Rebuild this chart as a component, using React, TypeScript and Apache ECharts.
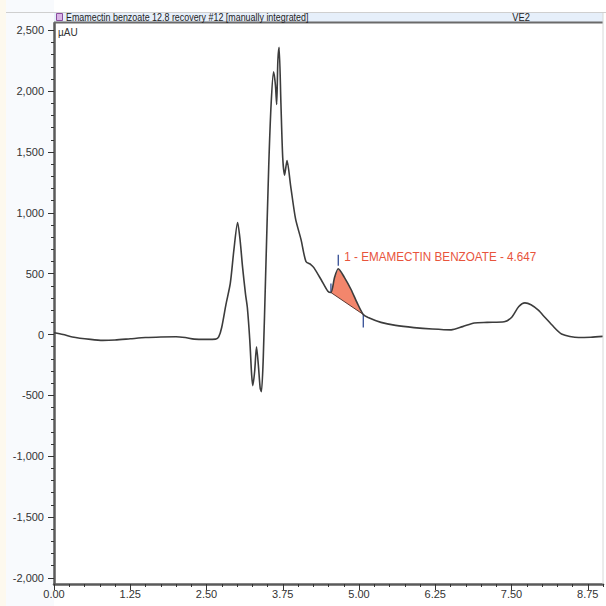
import React, { useEffect, useRef } from "react";
import * as echarts from "echarts";

// Retention time (min) and detector signal (µAU)
const times = [
  0.0, 0.15, 0.3, 0.6, 0.8, 1.0, 1.25, 1.5, 1.75, 2.0, 2.15, 2.3, 2.5, 2.65, 2.7, 2.75, 2.82, 2.89, 2.95,
  3.01, 3.05, 3.09, 3.14, 3.17, 3.21, 3.24, 3.26, 3.29, 3.32, 3.35, 3.38, 3.4, 3.43, 3.47, 3.52, 3.56,
  3.6, 3.63, 3.65, 3.67, 3.69, 3.72, 3.75, 3.78, 3.82, 3.88, 3.96, 4.05, 4.13, 4.21, 4.26, 4.38, 4.49,
  4.54, 4.6, 4.66, 4.76, 4.87, 4.97, 5.07, 5.15, 5.36, 5.6, 5.9, 6.2, 6.51, 6.7, 6.89, 7.1, 7.38, 7.5,
  7.62, 7.72, 7.82, 7.94, 8.05, 8.16, 8.32, 8.6, 8.8, 9.0,
];
const signal = [
  15, 0, -20, -40, -48, -45, -35, -25, -20, -18, -25, -38, -40, -38, -20, 60, 250, 420, 700,
  920, 780, 560, 330, 220, -50, -330, -420, -300, -100, -250, -440, -470, -200, 500, 1380, 1900,
  2160, 2050, 1890, 2250, 2360, 1900, 1450, 1310, 1430, 1220, 950, 780, 600, 575, 550, 450, 355,
  345, 470, 540, 470, 370, 260, 165, 140, 100, 75, 57, 45, 38, 65, 95, 100, 105, 140,
  230, 260, 245, 200, 140, 80, 5, -25, -22, -15,
];

// Integrated peak
const peakName = "1 - EMAMECTIN BENZOATE - 4.647";
const peakStart = 4.54;
const peakApex = 4.66;
const peakEnd = 5.07;

// Axis ticks
const yTicks = [-2000, -1500, -1000, -500, 0, 500, 1000, 1500, 2000, 2500];
const xTicks = [0, 1.25, 2.5, 3.75, 5.0, 6.25, 7.5, 8.75];

const title = "Emamectin benzoate 12.8 recovery #12 [manually integrated]";
const channel = "VE2";
const unit = "µAU";

export default function App() {
  const ref = useRef<HTMLDivElement>(null);
  useEffect(() => {
    if (!ref.current) return;
    const chart = echarts.init(ref.current, null, { renderer: "svg" });

    const yMinor: number[] = [];
    for (let v = -2000; v <= 2500; v += 100) yMinor.push(v);
    const xMinor: number[] = [];
    for (let i = 0; i <= 36; i++) xMinor.push(+(i * 0.25).toFixed(2));

    const lineData = times.map((t, i) => [t, signal[i]]);
    const seg = lineData.filter((p) => p[0] >= peakStart - 1e-9 && p[0] <= peakEnd + 1e-9);
    const apexVal = signal[times.indexOf(peakApex)];

    const fmtY = (v: number) => {
      const s = Math.abs(v).toLocaleString("en-US");
      return (v < 0 ? "-" : "") + s;
    };

    const axisFont = "'Liberation Sans', Arial, sans-serif";

    chart.setOption({
      animation: false,
      backgroundColor: "#ffffff",
      grid: { left: 54, right: 3, top: 23, bottom: 22, containLabel: false },
      xAxis: [
        {
          type: "value",
          min: 0,
          max: 9.0,
          axisLine: { show: true, onZero: false, lineStyle: { color: "#5a5a5a", width: 2.5 } },
          axisTick: { show: true, customValues: xTicks, length: 6, lineStyle: { color: "#333", width: 1 } },
          axisLabel: {
            customValues: xTicks,
            formatter: (v: number) => v.toFixed(2),
            color: "#333",
            fontFamily: axisFont,
            fontSize: 11,
            margin: 4,
          },
          splitLine: { show: false },
        },
        {
          type: "value",
          min: 0,
          max: 9.0,
          position: "bottom",
          axisLine: { show: false, onZero: false },
          axisTick: { show: true, customValues: xMinor, length: 3, lineStyle: { color: "#333", width: 1 } },
          axisLabel: { show: false },
          splitLine: { show: false },
        },
      ],
      yAxis: [
        {
          type: "value",
          min: -2050,
          max: 2560,
          axisLine: { show: true, onZero: false, lineStyle: { color: "#5a5a5a", width: 2.5 } },
          axisTick: { show: true, customValues: yTicks, length: 6, lineStyle: { color: "#333", width: 1 } },
          axisLabel: {
            customValues: yTicks,
            formatter: fmtY,
            color: "#333",
            fontFamily: axisFont,
            fontSize: 11,
            margin: 10,
          },
          splitLine: { show: false },
        },
        {
          type: "value",
          min: -2050,
          max: 2560,
          position: "left",
          axisLine: { show: false, onZero: false },
          axisTick: { show: true, customValues: yMinor, length: 3, lineStyle: { color: "#333", width: 1 } },
          axisLabel: { show: false },
          splitLine: { show: false },
        },
      ],
      graphic: [
        { type: "rect", z: -10, shape: { x: 0, y: 0, width: 6, height: 606 }, style: { fill: "#fdf9ee" } },
        { type: "rect", z: -10, shape: { x: 6, y: 0, width: 48, height: 606 }, style: { fill: "#f8fafd" } },
        { type: "line", z: 5, shape: { x1: 6, y1: 12.5, x2: 606, y2: 12.5 }, style: { stroke: "#cfcfcf", lineWidth: 1 } },
        { type: "rect", z: 5, shape: { x: 54, y: 13, width: 549, height: 9 }, style: { fill: "#e6effa" } },
        { type: "line", z: 6, shape: { x1: 54, y1: 22.5, x2: 603, y2: 22.5 }, style: { stroke: "#6a6a6a", lineWidth: 2 } },
        { type: "line", z: 6, shape: { x1: 603, y1: 13, x2: 603, y2: 584 }, style: { stroke: "#d8d8d8", lineWidth: 1 } },
        { type: "rect", z: 7, shape: { x: 56.5, y: 13.5, width: 6, height: 7 }, style: { fill: "#d9b5e6", stroke: "#8b4c9e", lineWidth: 1 } },
        {
          type: "text", z: 7, x: 66, y: 17.5, scaleX: 0.81,
          style: { text: title, fill: "#222", font: `11px ${axisFont}`, textVerticalAlign: "middle", textAlign: "left" },
        },
        {
          type: "text", z: 7, x: 521, y: 17.5, scaleX: 0.85,
          style: { text: channel, fill: "#222", font: `11px ${axisFont}`, textVerticalAlign: "middle", textAlign: "center" },
        },
        {
          type: "text", z: 7, x: 58, y: 32,
          style: { text: unit, fill: "#333", font: `10px ${axisFont}`, textVerticalAlign: "middle", textAlign: "left" },
        },
      ],
      series: [
        {
          type: "custom",
          xAxisIndex: 0,
          yAxisIndex: 0,
          z: 1,
          data: [[peakApex, apexVal]],
          encode: { x: 0, y: 1 },
          silent: true,
          renderItem: (_params: any, api: any) => {
            const pts = seg.map((p) => api.coord(p));
            const s = pts[0];
            const e = pts[pts.length - 1];
            const a = api.coord([peakApex, apexVal]);
            return {
              type: "group",
              children: [
                { type: "polygon", shape: { points: pts }, style: { fill: "#f3866c", stroke: "none" } },
                { type: "line", shape: { x1: s[0], y1: s[1], x2: e[0], y2: e[1] }, style: { stroke: "#5c3a33", lineWidth: 1 } },
                { type: "line", shape: { x1: s[0], y1: s[1] - 9, x2: s[0], y2: s[1] }, style: { stroke: "#233f8c", lineWidth: 1.2 } },
                { type: "line", shape: { x1: a[0], y1: a[1] - 14, x2: a[0], y2: a[1] - 3 }, style: { stroke: "#233f8c", lineWidth: 1.2 } },
                { type: "line", shape: { x1: e[0], y1: e[1], x2: e[0], y2: e[1] + 13 }, style: { stroke: "#233f8c", lineWidth: 1.2 } },
                {
                  type: "text",
                  x: a[0] + 6,
                  y: a[1] - 12,
                  scaleX: 0.9,
                  style: { text: peakName, fill: "#e8543c", font: `13px ${axisFont}`, textVerticalAlign: "middle", textAlign: "left" },
                },
              ],
            };
          },
        },
        {
          type: "line",
          xAxisIndex: 0,
          yAxisIndex: 0,
          z: 3,
          data: lineData,
          showSymbol: false,
          smooth: 0.25,
          lineStyle: { color: "#3c3c3c", width: 1.6 },
        },
      ],
    });
    return () => chart.dispose();
  }, []);
  return <div ref={ref} style={{ position: "fixed", left: 0, top: 0, width: 606, height: 606 }} />;
}
